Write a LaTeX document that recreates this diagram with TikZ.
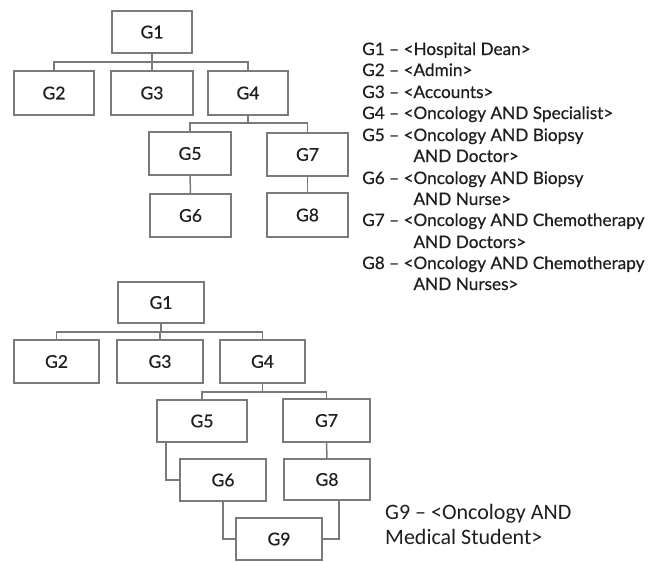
\documentclass[tikz,border=0pt]{standalone}
\usepackage{fontspec}
\setmainfont{Lato}
\newfontfamily\legendfont{Lato}[FakeBold=0.5]
\newfontfamily\notefont{Carlito}
\usetikzlibrary{calc}
\definecolor{boxgray}{HTML}{7A7A7A}
\definecolor{inkgray}{HTML}{1E1E1E}
% a box given by its corners (x1,y1) and (x2,y2)
\newcommand\gnode[6]{%
  \node[gbox, minimum width={(#4-#2)*1pt}, minimum height={(#5-#3)*1pt}]
    (#1) at ({(#2+#4)/2},{(#3+#5)/2}) {#6};}
\begin{document}
\begin{tikzpicture}[x=1pt,y=-1pt,
  gbox/.style={draw=boxgray, line width=1.7pt, fill=white, inner sep=0pt,
    text=inkgray, font=\legendfont\fontsize{17.5}{20}\selectfont},
  conn/.style={draw=boxgray, line width=1.5pt},
  legend/.style={anchor=base west, inner sep=0pt, text=inkgray,
    font=\legendfont\fontsize{17.2}{20}\selectfont},
  note/.style={anchor=base west, inner sep=0pt, text=inkgray,
    font=\notefont\fontsize{22}{25}\selectfont}]
\fill[white] (0,0) rectangle (651,562);
\useasboundingbox (0,0) rectangle (651,562);

% ---- upper hierarchy ----
\gnode{t1}{112}{11}{192}{53}{G1}
\gnode{t2}{14}{71}{94}{115}{G2}
\gnode{t3}{111}{71}{193}{115}{G3}
\gnode{t4}{208}{71}{288}{115}{G4}
\gnode{t5}{149}{132}{231}{175}{G5}
\gnode{t7}{267}{133}{348}{176}{G7}
\gnode{t6}{150}{194}{231}{237}{G6}
\gnode{t8}{267}{193}{348}{237}{G8}

\coordinate (tbus) at (152,62);
\coordinate (tbus2) at (248,123);
\draw[conn] (t1.south) -- (t1.south |- tbus);
\draw[conn] (t2.north) |- (tbus) -| (t4.north);
\draw[conn] (t3.north) -- (t3.north |- tbus);
\draw[conn] (t4.south) -- (t4.south |- tbus2);
\draw[conn] (t5.north) |- (tbus2) -| (t7.north);
\draw[conn] (t5.south) -- (t6.north);
\draw[conn] (t7.south) -- (t8.north);

% ---- legend of the groups ----
\foreach \n/\yy/\txt in {
  1/55/{G1 – <Hospital Dean>},
  2/76/{G2 – <Admin>},
  3/98/{G3 – <Accounts>},
  4/119/{G4 – <Oncology AND Specialist>},
  5/141/{G5 – <Oncology AND Biopsy},
  6/162/{\hphantom{G5 – <}AND Doctor>},
  7/184/{G6 – <Oncology AND Biopsy},
  8/205/{\hphantom{G6 – <}AND Nurse>},
  9/226/{G7 – <Oncology AND Chemotherapy},
  10/248/{\hphantom{G7 – <}AND Doctors>},
  11/269/{G8 – <Oncology AND Chemotherapy},
  12/290/{\hphantom{G8 – <}AND Nurses>}}
  \node[legend] (leg\n) at (362,\yy) {\txt};

% ---- lower hierarchy ----
\gnode{b1}{118}{282}{204}{323}{G1}
\gnode{b2}{14}{340}{99}{383}{G2}
\gnode{b3}{117}{340}{203}{383}{G3}
\gnode{b4}{220}{340}{305}{383}{G4}
\gnode{b5}{157}{400}{247}{442}{G5}
\gnode{b7}{283}{399}{370}{442}{G7}
\gnode{b6}{180}{459}{266}{501}{G6}
\gnode{b8}{284}{459}{370}{500}{G8}
\gnode{b9}{236}{518}{322}{560}{G9}

\coordinate (bbus) at (161,332);
\coordinate (bbus2) at (262.5,392);
\draw[conn] (b1.south) -- (b1.south |- bbus);
\draw[conn] (b2.north) |- (bbus) -| (b4.north);
\draw[conn] (b3.north) -- (b3.north |- bbus);
\draw[conn] (b4.south) -- (b4.south |- bbus2);
\draw[conn] (b5.north) |- (bbus2) -| (b7.north);
\draw[conn] (b7.south) -- (b8.north);
\draw[conn] ($(b5.south west)+(10,0)$) |- (b6.west);
\draw[conn] (b6.south) |- (b9.west);
\draw[conn] ($(b8.south)+(12,0)$) |- (b9.east);

\node[note] (n1) at (385,519) {G9 – <Oncology AND};
\node[note] (n2) at (385,544) {Medical Student>};
\end{tikzpicture}
\end{document}
